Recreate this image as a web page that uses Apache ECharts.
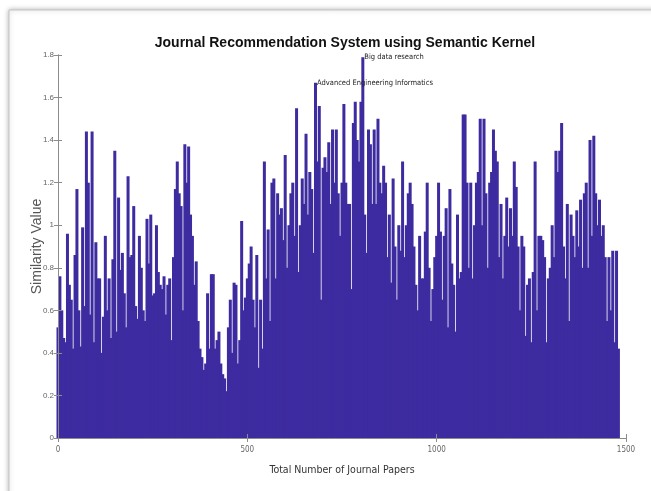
<!DOCTYPE html>
<html><head><meta charset="utf-8">
<script src="https://cdn.jsdelivr.net/npm/echarts@6/dist/echarts.min.js"></script>
<style>html,body{margin:0;padding:0;background:#fff;}#c{width:651px;height:491px;}</style>
</head><body><div id="c"></div>
<script>
// Similarity value for every 5th journal paper (paper 0, 5, 10, ... 1480)
const paperStep = 5;
const similarity = [
0.52,0.76,0.6,0.47,0.45,0.96,0.72,0.65,0.42,0.86,
1.17,0.6,0.43,0.99,0.62,1.44,1.2,0.58,1.44,0.45,
0.92,0.75,0.75,0.4,0.57,0.95,0.6,0.75,0.47,0.84,
1.35,0.5,1.13,0.79,0.87,0.68,0.52,1.23,0.85,0.86,
1.09,0.62,0.56,0.95,0.8,0.6,0.55,1.03,0.82,1.05,
0.67,0.68,1.0,0.78,0.72,0.7,0.76,0.58,0.72,0.75,
0.46,0.85,1.17,1.3,1.15,1.09,0.6,1.38,1.2,1.37,
1.05,0.95,0.72,0.83,0.55,0.42,0.38,0.32,0.35,0.68,
0.42,0.77,0.77,0.42,0.46,0.5,0.35,0.3,0.28,0.22,
0.52,0.65,0.4,0.73,0.72,0.35,0.46,1.02,0.6,0.66,
0.75,0.82,0.9,0.65,0.52,0.86,0.33,0.65,0.42,1.3,
0.75,0.98,0.55,1.2,1.22,0.75,1.15,1.05,1.08,0.93,
1.33,0.8,1.0,1.15,1.2,0.95,1.55,0.78,1.0,1.22,
1.1,1.43,1.05,1.25,1.17,0.87,1.67,1.3,1.56,0.65,
1.27,1.32,1.25,1.39,1.1,1.45,1.2,1.45,1.15,0.95,
1.2,1.57,1.2,1.1,1.1,0.7,1.48,1.58,1.4,1.3,
1.58,1.79,1.05,0.87,1.45,1.38,1.1,1.45,1.1,1.5,
1.2,1.15,1.28,1.2,0.85,1.05,0.73,1.22,0.9,0.65,
1.0,0.88,1.3,0.85,1.0,1.15,1.2,1.1,0.9,0.72,
0.6,0.95,0.75,0.75,0.97,1.2,0.8,0.55,0.7,0.85,
0.95,1.2,0.97,0.65,0.95,1.08,0.52,1.17,0.82,0.72,
0.5,1.05,0.75,0.78,1.52,1.52,1.2,0.8,1.2,0.75,
1.0,1.2,1.25,1.5,1.0,1.5,1.15,0.8,1.2,1.25,
1.45,1.35,1.3,0.85,1.1,0.75,0.95,1.13,0.9,1.08,
0.95,1.3,1.18,0.9,0.6,0.95,0.9,0.48,0.72,0.75,
0.45,0.78,1.3,0.6,0.95,0.95,0.93,0.85,0.45,0.75,
0.8,1.0,0.85,1.35,1.25,1.35,1.48,0.9,0.75,1.1,
0.55,1.05,0.95,0.85,1.07,0.9,1.12,0.8,1.15,1.2,
0.8,1.4,0.95,1.42,1.15,1.0,1.12,0.95,1.0,0.85,
0.55,0.85,0.6,0.88,0.45,0.88,0.42
];
const xTicks = [0, 500, 1000, 1500];
const yTicks = [0, 0.2, 0.4, 0.6, 0.8, 1, 1.2, 1.4, 1.6, 1.8];
const annotatedPapers = [680, 805];
const annotationLabels = ['Advanced Engineering Informatics', 'Big data research'];

const paperNumbers = similarity.map((_, i) => i * paperStep);
const barData = similarity.map((v, i) => [paperNumbers[i], v]);
const marks = annotatedPapers.map((p, k) => ({
  coord: [p, similarity[paperNumbers.indexOf(p)]],
  label: { formatter: annotationLabels[k] }
}));

const chart = echarts.init(document.getElementById('c'), null, { renderer: 'canvas' });
const axisGrey = '#8c8c8c';
const narrow = "'DejaVu Sans Condensed', 'Liberation Sans Narrow', 'Liberation Sans'";
const xBase = {
  type: 'value', min: xTicks[0], max: xTicks[xTicks.length - 1], interval: xTicks[1] - xTicks[0],
  splitLine: { show: false }, z: 10,
  axisLine: { show: true, lineStyle: { color: axisGrey, width: 1 } },
  axisTick: { show: true, inside: true, length: 4, lineStyle: { color: axisGrey } }
};
const yBase = {
  type: 'value', min: yTicks[0], max: yTicks[yTicks.length - 1], interval: yTicks[1] - yTicks[0],
  splitLine: { show: false }, z: 10,
  axisLine: { show: true, lineStyle: { color: axisGrey, width: 1 } },
  axisTick: { show: true, inside: true, length: 4, lineStyle: { color: axisGrey } }
};

chart.setOption({
  animation: false,
  backgroundColor: '#ffffff',
  graphic: [{
    type: 'rect', z: -10, silent: true,
    shape: { x: 9, y: 10, width: 800, height: 700 },
    style: { fill: '#ffffff', stroke: '#c4c4c4', lineWidth: 1, shadowBlur: 5, shadowColor: 'rgba(0,0,0,0.28)' }
  }],
  title: {
    text: 'Journal Recommendation System using Semantic Kernel',
    left: 340, top: 31, textAlign: 'center',
    textStyle: { fontFamily: 'Liberation Sans', fontWeight: 'bold', fontSize: 14, color: '#111' }
  },
  grid: { left: 58, right: 25, top: 55, bottom: 53, containLabel: false },
  xAxis: [
    Object.assign({}, xBase, {
      position: 'bottom',
      name: 'Total Number of Journal Papers', nameLocation: 'middle', nameGap: 27, nameMoveOverlap: false,
      nameTextStyle: { fontFamily: narrow, fontSize: 10.5, color: '#333' },
      axisLabel: { show: true, margin: 8, fontFamily: narrow, fontSize: 8, color: '#666',
        formatter: v => String(v) }
    }),
    Object.assign({}, xBase, { position: 'top', axisLabel: { show: false } })
  ],
  yAxis: [
    Object.assign({}, yBase, {
      position: 'left',
      name: 'Similarity Value', nameLocation: 'middle', nameGap: 14, nameRotate: 90, nameMoveOverlap: false,
      nameTextStyle: { fontFamily: 'Liberation Sans', fontSize: 14, color: '#555' },
      axisLabel: { show: true, margin: 4, fontFamily: 'Liberation Sans', fontSize: 8, color: '#666',
        formatter: v => String(Math.round(v * 10) / 10) }
    }),
    Object.assign({}, yBase, { position: 'right', axisLabel: { show: false } })
  ],
  series: [{
    type: 'bar',
    xAxisIndex: 0, yAxisIndex: 0,
    data: barData,
    barWidth: 3,
    itemStyle: { color: '#3d2ba0' },
    markPoint: {
      symbol: 'rect', symbolSize: 1,
      itemStyle: { color: 'rgba(0,0,0,0)' },
      label: { show: true, position: 'right', distance: 1, fontFamily: narrow, fontSize: 7.5, color: '#222' },
      data: marks
    }
  }]
});
</script>
</body></html>
